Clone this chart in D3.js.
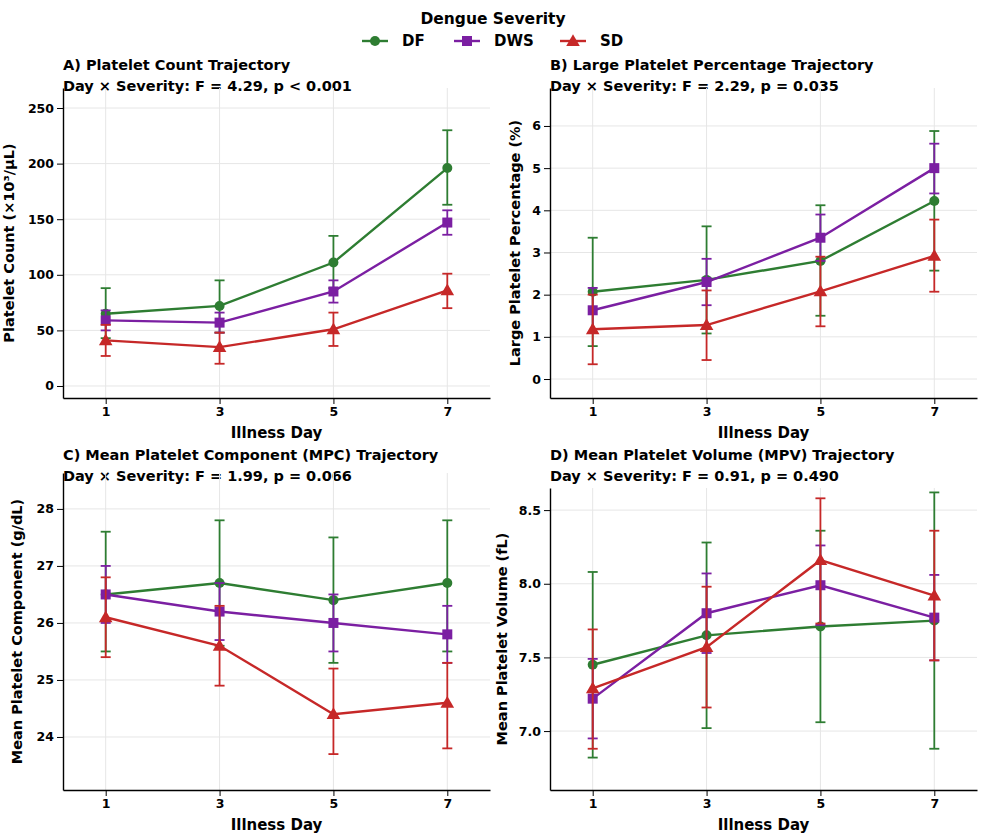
<!DOCTYPE html><html><head><meta charset="utf-8">
<script src="https://cdn.jsdelivr.net/npm/d3@7"></script>
<style>body{margin:0;background:#fff}text{font-family:"DejaVu Sans";font-weight:bold}</style></head><body>
<svg id="c" width="986" height="838"></svg>
<script>
const days=[1,3,5,7];
const groups=["DF","DWS","SD"];
const colors={DF:"#2e7d32",DWS:"#7b1fa2",SD:"#c62828"};
// panel A
const plateletMean={DF:[65,72,111,196],DWS:[59,57,85,147],SD:[41,35,51,86]};
const plateletLo={DF:[43,48,88,163],DWS:[50,48,75,136],SD:[27,20,36,70]};
const plateletHi={DF:[88,95,135,230],DWS:[68,66,95,158],SD:[55,48,66,101]};
// panel B
const lppMean={DF:[2.07,2.35,2.8,4.22],DWS:[1.63,2.3,3.35,5.0],SD:[1.18,1.28,2.08,2.92]};
const lppLo={DF:[0.78,1.08,1.5,2.57],DWS:[1.1,1.75,2.8,4.4],SD:[0.35,0.45,1.25,2.07]};
const lppHi={DF:[3.35,3.62,4.12,5.88],DWS:[2.16,2.85,3.9,5.58],SD:[2.0,2.1,2.9,3.78]};
// panel C
const mpcMean={DF:[26.5,26.7,26.4,26.7],DWS:[26.5,26.2,26.0,25.8],SD:[26.1,25.6,24.4,24.6]};
const mpcLo={DF:[25.5,25.6,25.3,25.5],DWS:[26.0,25.7,25.5,25.3],SD:[25.4,24.9,23.7,23.8]};
const mpcHi={DF:[27.6,27.8,27.5,27.8],DWS:[27.0,26.7,26.5,26.3],SD:[26.8,26.3,25.2,25.3]};
// panel D
const mpvMean={DF:[7.45,7.65,7.71,7.75],DWS:[7.22,7.80,7.99,7.77],SD:[7.29,7.57,8.16,7.92]};
const mpvLo={DF:[6.82,7.02,7.06,6.88],DWS:[6.95,7.53,7.72,7.48],SD:[6.88,7.16,7.73,7.48]};
const mpvHi={DF:[8.08,8.28,8.36,8.62],DWS:[7.49,8.07,8.26,8.06],SD:[7.69,7.98,8.58,8.36]};

const panels=[
 {t1:"A) Platelet Count Trajectory",t2:"Day × Severity: F = 4.29, p < 0.001",yl:"Platelet Count (×10³/µL)",m:plateletMean,lo:plateletLo,hi:plateletHi,dom:[-10.8,268],ticks:[0,50,100,150,200,250],fmt:d3.format("d"),x:63,y:88,h:310,ty:70,yo:-49},
 {t1:"B) Large Platelet Percentage Trajectory",t2:"Day × Severity: F = 2.29, p = 0.035",yl:"Large Platelet Percentage (%)",m:lppMean,lo:lppLo,hi:lppHi,dom:[-0.45,6.9],ticks:[0,1,2,3,4,5,6],fmt:d3.format("d"),x:550,y:88,h:310,ty:70,yo:-30},
 {t1:"C) Mean Platelet Component (MPC) Trajectory",t2:"Day × Severity: F = 1.99, p = 0.066",yl:"Mean Platelet Component (g/dL)",m:mpcMean,lo:mpcLo,hi:mpcHi,dom:[23.07,28.63],ticks:[24,25,26,27,28],fmt:d3.format("d"),x:63,y:473,h:317,ty:460,yo:-41},
 {t1:"D) Mean Platelet Volume (MPV) Trajectory",t2:"Day × Severity: F = 0.91, p = 0.490",yl:"Mean Platelet Volume (fL)",m:mpvMean,lo:mpvLo,hi:mpvHi,dom:[6.6,8.65],ticks:[7.0,7.5,8.0,8.5],fmt:d3.format(".1f"),x:550,y:488,h:302,ty:460,yo:-43}
];
const svg=d3.select("#c");
function marker(g,k,x,y){
 const c=colors[k];
 if(k==="DF")g.append("circle").attr("cx",x).attr("cy",y).attr("r",5).attr("fill",c);
 else if(k==="DWS")g.append("rect").attr("x",x-5).attr("y",y-5).attr("width",10).attr("height",10).attr("fill",c);
 else g.append("path").attr("d",d3.symbol(d3.symbolTriangle,80)()).attr("transform",`translate(${x},${y+1})`).attr("fill",c);
}
panels.forEach(p=>{
 const W=427;
 svg.append("text").attr("x",p.x).attr("y",p.ty).attr("font-size",14.5).text(p.t1);
 svg.append("text").attr("x",p.x).attr("y",p.ty+21).attr("font-size",14.5).text(p.t2);
 const g=svg.append("g").attr("transform",`translate(${p.x},${p.y})`);
 const x=d3.scaleLinear().domain([0.25,7.75]).range([0,W]);
 const y=d3.scaleLinear().domain(p.dom).range([p.h,0]);
 g.selectAll(".gx").data(days).enter().append("line").attr("x1",d=>x(d)).attr("x2",d=>x(d)).attr("y1",0).attr("y2",p.h).attr("stroke","#e6e6e6");
 g.selectAll(".gy").data(p.ticks).enter().append("line").attr("y1",d=>y(d)).attr("y2",d=>y(d)).attr("x1",0).attr("x2",W).attr("stroke","#e6e6e6");
 const xa=g.append("g").attr("transform",`translate(0,${p.h})`).call(d3.axisBottom(x).tickValues(days).tickSizeOuter(0));
 const ya=g.append("g").call(d3.axisLeft(y).tickValues(p.ticks).tickFormat(p.fmt).tickSizeOuter(0));
 [xa,ya].forEach(a=>{a.selectAll("text").attr("font-size",12.5).attr("fill","#000");a.select(".domain").attr("stroke","#000").attr("stroke-width",1.4);});
 g.append("text").attr("x",W/2).attr("y",p.h+40).attr("text-anchor","middle").attr("font-size",15).text("Illness Day");
 g.append("text").attr("transform",`translate(${p.yo},${p.h/2}) rotate(-90)`).attr("text-anchor","middle").attr("font-size",14.5).text(p.yl);
 groups.forEach(k=>{
  const c=colors[k];
  days.forEach((d,i)=>{
   g.append("line").attr("x1",x(d)).attr("x2",x(d)).attr("y1",y(p.lo[k][i])).attr("y2",y(p.hi[k][i])).attr("stroke",c).attr("stroke-width",1.8);
   [p.lo[k][i],p.hi[k][i]].forEach(v=>g.append("line").attr("x1",x(d)-5).attr("x2",x(d)+5).attr("y1",y(v)).attr("y2",y(v)).attr("stroke",c).attr("stroke-width",1.8));
  });
  g.append("path").attr("d",d3.line().x((d,i)=>x(days[i])).y(d=>y(d))(p.m[k])).attr("fill","none").attr("stroke",c).attr("stroke-width",2.4);
  days.forEach((d,i)=>marker(g,k,x(d),y(p.m[k][i])));
 });
});
// legend
svg.append("text").attr("x",493).attr("y",24).attr("text-anchor","middle").attr("font-size",15.5).text("Dengue Severity");
const lx=[362,454,560];
groups.forEach((k,i)=>{
 const lg=svg.append("g");
 lg.append("line").attr("x1",lx[i]).attr("x2",lx[i]+26).attr("y1",41).attr("y2",41).attr("stroke",colors[k]).attr("stroke-width",2.4);
 marker(lg,k,lx[i]+13,41);
 lg.append("text").attr("x",lx[i]+40).attr("y",46).attr("font-size",15).text(k);
});
</script></body></html>
